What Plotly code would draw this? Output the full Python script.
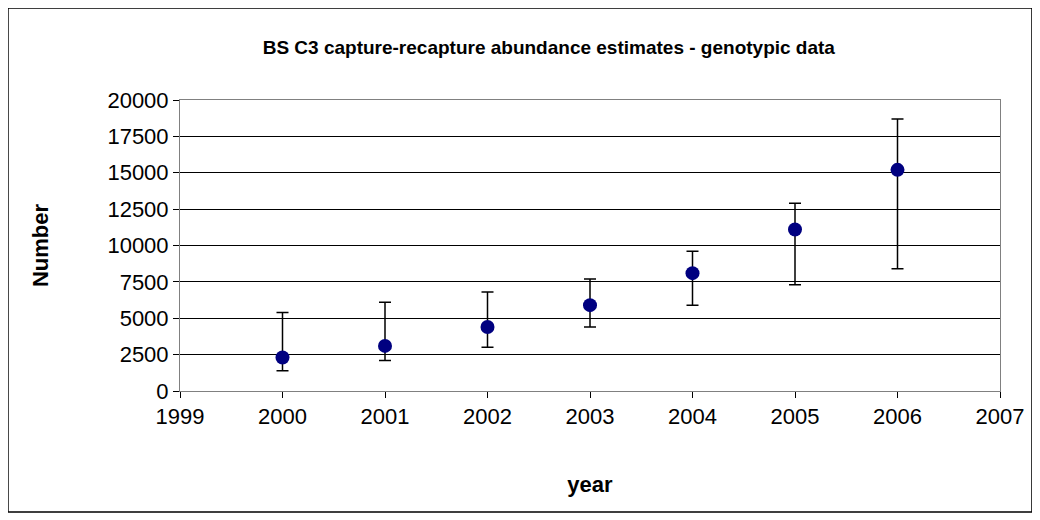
import plotly.graph_objects as go

years = [2000, 2001, 2002, 2003, 2004, 2005, 2006]
estimate = [2300, 3100, 4400, 5900, 8100, 11100, 15200]
upper = [5400, 6100, 6800, 7700, 9600, 12900, 18700]
lower = [1400, 2100, 3000, 4400, 5900, 7300, 8400]

fig = go.Figure(go.Scatter(
    x=years, y=estimate, mode="markers",
    marker=dict(color="#000080", size=14),
    error_y=dict(type="data", symmetric=False,
                 array=[u - e for u, e in zip(upper, estimate)],
                 arrayminus=[e - l for e, l in zip(estimate, lower)],
                 color="black", thickness=1.5, width=6),
))

fig.update_layout(
    width=1040, height=520,
    paper_bgcolor="white", plot_bgcolor="white",
    font=dict(family="Liberation Sans, Arial", size=22, color="black"),
    title=dict(text="<b>BS C3 capture-recapture abundance estimates - genotypic data</b>",
               x=0.52, xanchor="center", y=0.925, yanchor="middle", font=dict(size=19)),
    margin=dict(l=172, r=48, t=92, b=137),
    showlegend=False,
    shapes=[dict(type="rect", xref="paper", yref="paper", x0=-0.2098, x1=1.039, y0=-0.416, y1=1.316,
                 line=dict(color="black", width=1.5))],
)
fig.update_xaxes(range=[1999, 2007], dtick=1, showgrid=False, showline=True,
                 linecolor="gray", mirror=True, ticks="outside", ticklen=6, tickcolor="black",
                 tickfont=dict(size=22),
                 title=dict(text="<b>year</b>", font=dict(size=22), standoff=48))
fig.update_yaxes(range=[0, 20000], dtick=2500, tickformat="d", showgrid=True, gridcolor="black",
                 gridwidth=1, showline=True, linecolor="gray", mirror=True, ticks="outside",
                 ticklen=6, tickcolor="black", zeroline=False, tickfont=dict(size=22),
                 title=dict(text="<b>Number</b>", font=dict(size=22), standoff=52))

fig.write_html("out.html")
